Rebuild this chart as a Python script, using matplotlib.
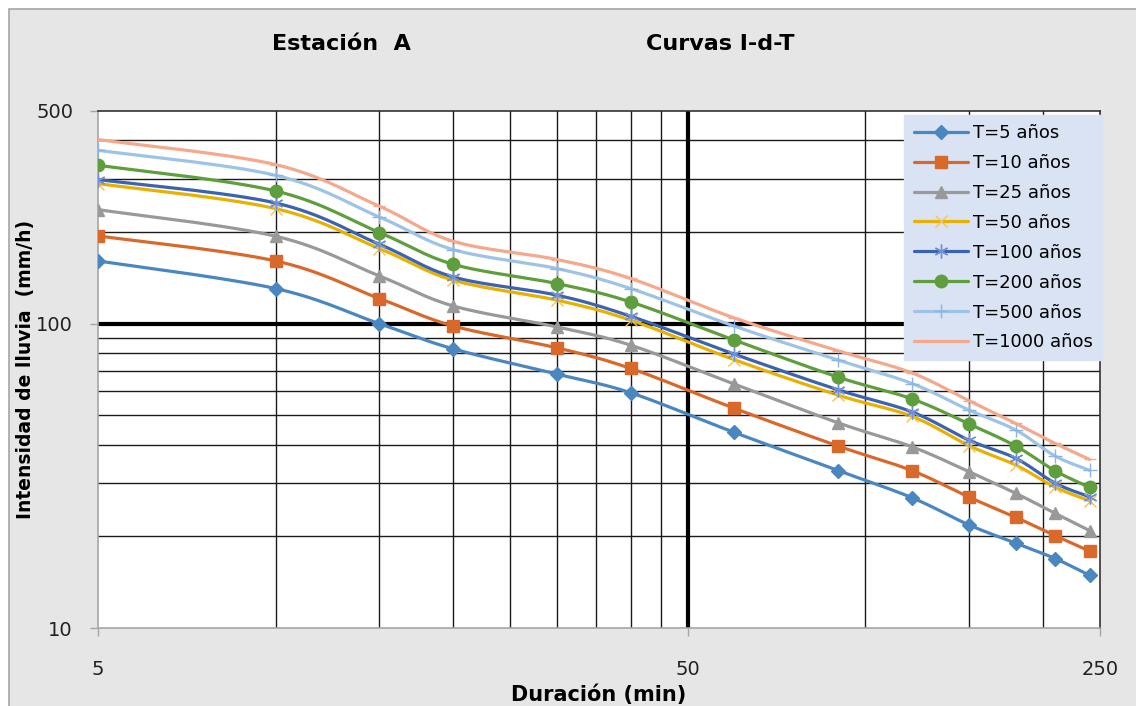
import numpy as np
import matplotlib
matplotlib.use("Agg")
import matplotlib.pyplot as plt
from matplotlib.patches import Rectangle

# ---- data ----
duration = [5, 10, 15, 20, 30, 40, 60, 90, 120, 150, 180, 210, 240]
t5    = [160.8, 130.5, 100.0, 82.7, 68.3, 59.3, 43.9, 32.9, 26.8, 21.8, 19.0, 16.9, 14.9]
t10   = [194.3, 160.8, 121.0, 98.3, 83.3, 71.3, 52.7, 39.6, 32.9, 26.9, 23.1, 20.1, 17.9]
t25   = [237.0, 193.9, 143.5, 114.4, 97.6, 85.0, 63.3, 47.2, 39.4, 32.6, 27.7, 23.8, 20.9]
t50   = [288.6, 238.9, 176.6, 139.0, 119.5, 102.7, 76.1, 58.2, 49.6, 39.7, 34.3, 29.0, 26.2]
t100  = [297.6, 249.3, 182.4, 142.5, 124.1, 105.8, 79.4, 60.6, 51.3, 41.4, 36.1, 29.9, 27.0]
t200  = [331.6, 273.0, 199.3, 156.8, 135.5, 117.9, 88.3, 66.7, 56.6, 46.8, 39.6, 32.8, 29.0]
t500  = [371.3, 307.4, 224.2, 175.2, 151.8, 130.5, 98.1, 75.9, 63.6, 52.0, 44.7, 36.7, 33.0]
t1000 = [402.7, 333.3, 243.2, 186.6, 162.5, 140.8, 104.4, 81.4, 68.9, 55.8, 47.0, 40.4, 35.8]
labels = ["T=5 años", "T=10 años", "T=25 años", "T=50 años",
          "T=100 años", "T=200 años", "T=500 años", "T=1000 años"]
series = [t5, t10, t25, t50, t100, t200, t500, t1000]

x_ticks = [5, 50, 250]
x_ticklabels = ["5", "50", "250"]
y_ticks = [10, 100, 500]
y_ticklabels = ["10", "100", "500"]
x_minor = [10, 15, 20, 25, 30, 35, 40, 45, 100, 150, 200]
y_minor = [20, 30, 40, 50, 60, 70, 80, 90, 200, 300, 400, 500]

# ---- styles ----
colors  = ["#4A86C0", "#D9692A", "#999999", "#E8B000",
           "#3A63B0", "#5E9E3C", "#9DC3E6", "#F4A88C"]
mcolors = ["#4A86C0", "#D9692A", "#999999", "#F2C54E",
           "#7090D8", "#5E9E3C", "#8DB4E2", "#F4A88C"]
markers = ["D", "s", "^", "x", (6, 2, 0), "o", "+", "_"]
msizes  = [7, 8.5, 9, 9, 10, 9, 10, 8]
mews    = [1, 1, 1, 1.0, 1.0, 1, 1.0, 1.0]


def smooth(xs, ys, n=16):
    """Excel-like smoothed line (Bezier/Catmull-Rom) in log-log space."""
    P = np.column_stack([np.log10(xs), np.log10(ys)])
    out = [P[0]]
    idx = [0]
    m = len(P)
    for i in range(m - 1):
        p0 = P[i - 1] if i > 0 else P[i]
        p1 = P[i]
        p2 = P[i + 1]
        p3 = P[i + 2] if i + 2 < m else P[i + 1]
        c1 = p1 + (p2 - p0) / 6.0
        c2 = p2 - (p3 - p1) / 6.0
        for t in np.linspace(0, 1, n + 1)[1:]:
            b = ((1 - t) ** 3) * p1 + 3 * ((1 - t) ** 2) * t * c1 + 3 * (1 - t) * t ** 2 * c2 + t ** 3 * p2
            out.append(b)
        idx.append(len(out) - 1)
    out = np.array(out)
    return 10 ** out[:, 0], 10 ** out[:, 1], idx


W, H = 1136, 706
fig = plt.figure(figsize=(W / 100, H / 100), dpi=100)
fig.patch.set_facecolor("white")
bg = Rectangle((8.5 / W, -0.02), 1.2, (H - 8.5) / H + 0.02,
               transform=fig.transFigure, facecolor="#E6E6E6",
               edgecolor="#A6A6A6", linewidth=1.2, zorder=-10)
fig.add_artist(bg)

ax = fig.add_axes([98 / W, 78 / H, 1002 / W, 517 / H])
ax.set_zorder(1)
ax.set_facecolor("white")
ax.set_xscale("log")
ax.set_yscale("log")
ax.set_xlim(5, 250)
ax.set_ylim(10, 500)

for ys, lab, c, mc, mk, ms, mew in zip(series, labels, colors, mcolors, markers, msizes, mews):
    sx, sy, idx = smooth(np.array(duration, float), np.array(ys, float))
    ax.plot(sx, sy, color=c, lw=2.3, marker=mk, markevery=idx, markersize=ms,
            markerfacecolor=mc, markeredgecolor=mc, markeredgewidth=mew,
            label=lab, zorder=3, solid_capstyle="round")

# ticks
ax.xaxis.set_major_locator(matplotlib.ticker.FixedLocator(x_ticks))
ax.xaxis.set_major_formatter(matplotlib.ticker.FixedFormatter(x_ticklabels))
ax.xaxis.set_minor_locator(matplotlib.ticker.FixedLocator(x_minor))
ax.xaxis.set_minor_formatter(matplotlib.ticker.NullFormatter())
ax.yaxis.set_major_locator(matplotlib.ticker.FixedLocator(y_ticks))
ax.yaxis.set_major_formatter(matplotlib.ticker.FixedFormatter(y_ticklabels))
ax.yaxis.set_minor_locator(matplotlib.ticker.FixedLocator(y_minor))
ax.yaxis.set_minor_formatter(matplotlib.ticker.NullFormatter())

ax.tick_params(which="major", length=6, width=1, color="#A6A6A6", direction="out",
               labelsize=14, labelcolor="#222222")
ax.tick_params(axis="x", which="major", pad=17)
ax.tick_params(axis="y", which="major", pad=12)
ax.tick_params(which="minor", length=0)

ax.grid(which="minor", color="#1A1A1A", linewidth=1.0, zorder=1)
ax.axhline(100, color="black", lw=3, zorder=2)
ax.axvline(50, color="black", lw=3, zorder=2)

for s in ["left", "bottom"]:
    ax.spines[s].set_color("#A6A6A6")
    ax.spines[s].set_linewidth(1.2)
for s in ["top", "right"]:
    ax.spines[s].set_color("#333333")
    ax.spines[s].set_linewidth(1.2)

ax.set_xlabel("Duración (min)", fontsize=15, fontweight="bold")
ax.set_ylabel("Intensidad de lluvia  (mm/h)", fontsize=13.5, fontweight="bold")
ax.xaxis.set_label_coords(0.5, (706 - 684 - 78) / 517)
ax.yaxis.set_label_coords((35 - 98) / 1002, 0.5)

fig.text(341.5 / W, 1 - 44.5 / H, "Estación  A", fontsize=16, fontweight="bold",
         ha="center", va="center")
fig.text(720.5 / W, 1 - 44.5 / H, "Curvas I-d-T", fontsize=16, fontweight="bold",
         ha="center", va="center")

leg = ax.legend(loc="upper right", bbox_to_anchor=(1.002, (628 - 115) / 517),
                borderaxespad=0, fontsize=13, frameon=True, fancybox=False,
                handlelength=3.0, handletextpad=0.3, labelspacing=0.66,
                borderpad=0.5)
leg.get_frame().set_facecolor("#DAE3F3")
leg.get_frame().set_edgecolor("#DAE3F3")
leg.get_frame().set_alpha(1)
leg.set_zorder(5)

fig.savefig("out.png", dpi=100, facecolor=fig.get_facecolor())
